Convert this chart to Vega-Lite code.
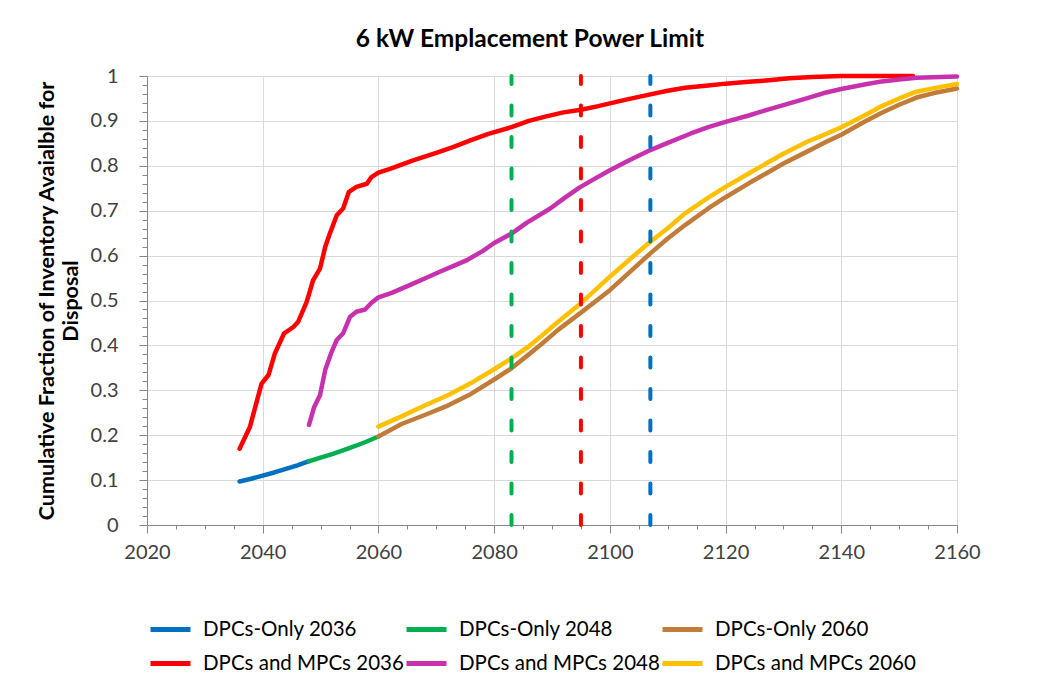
{
  "$schema": "https://vega.github.io/schema/vega-lite/v6.json",
  "width": 810,
  "height": 449,
  "autosize": {"type": "none"},
  "padding": {"left": 147, "top": 76, "right": 85, "bottom": 168},
  "background": "white",
  "title": {
    "text": "6 kW Emplacement Power Limit",
    "font": "Lato",
    "fontSize": 24.5,
    "fontWeight": "bold",
    "color": "#000000",
    "anchor": "middle",
    "dx": -22,
    "offset": 14
  },
  "config": {"view": {"stroke": null}},
  "datasets": {
    "curves": [
      {"series": "DPCs-Only 2036", "year": 2036, "value": 0.097},
      {"series": "DPCs-Only 2036", "year": 2038, "value": 0.103},
      {"series": "DPCs-Only 2036", "year": 2040, "value": 0.110},
      {"series": "DPCs-Only 2036", "year": 2042, "value": 0.117},
      {"series": "DPCs-Only 2036", "year": 2044, "value": 0.125},
      {"series": "DPCs-Only 2036", "year": 2046, "value": 0.133},
      {"series": "DPCs-Only 2036", "year": 2048, "value": 0.142},
      {"series": "DPCs-Only 2048", "year": 2048, "value": 0.142},
      {"series": "DPCs-Only 2048", "year": 2050, "value": 0.150},
      {"series": "DPCs-Only 2048", "year": 2052, "value": 0.158},
      {"series": "DPCs-Only 2048", "year": 2054, "value": 0.167},
      {"series": "DPCs-Only 2048", "year": 2056, "value": 0.176},
      {"series": "DPCs-Only 2048", "year": 2058, "value": 0.186},
      {"series": "DPCs-Only 2048", "year": 2060, "value": 0.197},
      {"series": "DPCs-Only 2060", "year": 2060, "value": 0.197},
      {"series": "DPCs-Only 2060", "year": 2064, "value": 0.225},
      {"series": "DPCs-Only 2060", "year": 2068, "value": 0.245},
      {"series": "DPCs-Only 2060", "year": 2072, "value": 0.266},
      {"series": "DPCs-Only 2060", "year": 2076, "value": 0.292},
      {"series": "DPCs-Only 2060", "year": 2080, "value": 0.324},
      {"series": "DPCs-Only 2060", "year": 2083, "value": 0.349},
      {"series": "DPCs-Only 2060", "year": 2086, "value": 0.380},
      {"series": "DPCs-Only 2060", "year": 2088, "value": 0.401},
      {"series": "DPCs-Only 2060", "year": 2091, "value": 0.434},
      {"series": "DPCs-Only 2060", "year": 2095, "value": 0.473},
      {"series": "DPCs-Only 2060", "year": 2100, "value": 0.523},
      {"series": "DPCs-Only 2060", "year": 2104, "value": 0.570},
      {"series": "DPCs-Only 2060", "year": 2107, "value": 0.605},
      {"series": "DPCs-Only 2060", "year": 2110, "value": 0.638},
      {"series": "DPCs-Only 2060", "year": 2113, "value": 0.668},
      {"series": "DPCs-Only 2060", "year": 2117, "value": 0.705},
      {"series": "DPCs-Only 2060", "year": 2120, "value": 0.730},
      {"series": "DPCs-Only 2060", "year": 2124, "value": 0.761},
      {"series": "DPCs-Only 2060", "year": 2127, "value": 0.783},
      {"series": "DPCs-Only 2060", "year": 2130, "value": 0.805},
      {"series": "DPCs-Only 2060", "year": 2134, "value": 0.831},
      {"series": "DPCs-Only 2060", "year": 2137, "value": 0.851},
      {"series": "DPCs-Only 2060", "year": 2140, "value": 0.869},
      {"series": "DPCs-Only 2060", "year": 2144, "value": 0.898},
      {"series": "DPCs-Only 2060", "year": 2147, "value": 0.918},
      {"series": "DPCs-Only 2060", "year": 2150, "value": 0.936},
      {"series": "DPCs-Only 2060", "year": 2153, "value": 0.952},
      {"series": "DPCs-Only 2060", "year": 2156, "value": 0.962},
      {"series": "DPCs-Only 2060", "year": 2160, "value": 0.972},
      {"series": "DPCs and MPCs 2036", "year": 2036, "value": 0.170},
      {"series": "DPCs and MPCs 2036", "year": 2037.8, "value": 0.219},
      {"series": "DPCs and MPCs 2036", "year": 2039.8, "value": 0.315},
      {"series": "DPCs and MPCs 2036", "year": 2041, "value": 0.334},
      {"series": "DPCs and MPCs 2036", "year": 2042.1, "value": 0.382},
      {"series": "DPCs and MPCs 2036", "year": 2043.7, "value": 0.427},
      {"series": "DPCs and MPCs 2036", "year": 2045.3, "value": 0.441},
      {"series": "DPCs and MPCs 2036", "year": 2046.1, "value": 0.452},
      {"series": "DPCs and MPCs 2036", "year": 2047.6, "value": 0.497},
      {"series": "DPCs and MPCs 2036", "year": 2048.7, "value": 0.545},
      {"series": "DPCs and MPCs 2036", "year": 2049.9, "value": 0.571},
      {"series": "DPCs and MPCs 2036", "year": 2050.8, "value": 0.619},
      {"series": "DPCs and MPCs 2036", "year": 2051.6, "value": 0.649},
      {"series": "DPCs and MPCs 2036", "year": 2052.8, "value": 0.690},
      {"series": "DPCs and MPCs 2036", "year": 2053.9, "value": 0.705},
      {"series": "DPCs and MPCs 2036", "year": 2054.9, "value": 0.742},
      {"series": "DPCs and MPCs 2036", "year": 2056.2, "value": 0.753},
      {"series": "DPCs and MPCs 2036", "year": 2058, "value": 0.760},
      {"series": "DPCs and MPCs 2036", "year": 2058.8, "value": 0.775},
      {"series": "DPCs and MPCs 2036", "year": 2060, "value": 0.785},
      {"series": "DPCs and MPCs 2036", "year": 2062, "value": 0.793},
      {"series": "DPCs and MPCs 2036", "year": 2066, "value": 0.812},
      {"series": "DPCs and MPCs 2036", "year": 2070, "value": 0.829},
      {"series": "DPCs and MPCs 2036", "year": 2073, "value": 0.842},
      {"series": "DPCs and MPCs 2036", "year": 2076, "value": 0.857},
      {"series": "DPCs and MPCs 2036", "year": 2079, "value": 0.871},
      {"series": "DPCs and MPCs 2036", "year": 2083, "value": 0.886},
      {"series": "DPCs and MPCs 2036", "year": 2086, "value": 0.900},
      {"series": "DPCs and MPCs 2036", "year": 2089, "value": 0.910},
      {"series": "DPCs and MPCs 2036", "year": 2092, "value": 0.919},
      {"series": "DPCs and MPCs 2036", "year": 2095, "value": 0.925},
      {"series": "DPCs and MPCs 2036", "year": 2098, "value": 0.933},
      {"series": "DPCs and MPCs 2036", "year": 2100, "value": 0.939},
      {"series": "DPCs and MPCs 2036", "year": 2103, "value": 0.948},
      {"series": "DPCs and MPCs 2036", "year": 2107, "value": 0.959},
      {"series": "DPCs and MPCs 2036", "year": 2110, "value": 0.967},
      {"series": "DPCs and MPCs 2036", "year": 2113, "value": 0.974},
      {"series": "DPCs and MPCs 2036", "year": 2117, "value": 0.979},
      {"series": "DPCs and MPCs 2036", "year": 2120, "value": 0.983},
      {"series": "DPCs and MPCs 2036", "year": 2124, "value": 0.987},
      {"series": "DPCs and MPCs 2036", "year": 2127, "value": 0.990},
      {"series": "DPCs and MPCs 2036", "year": 2131, "value": 0.995},
      {"series": "DPCs and MPCs 2036", "year": 2135, "value": 0.998},
      {"series": "DPCs and MPCs 2036", "year": 2140, "value": 1.0},
      {"series": "DPCs and MPCs 2036", "year": 2152.4, "value": 1.0},
      {"series": "DPCs and MPCs 2048", "year": 2048, "value": 0.223},
      {"series": "DPCs and MPCs 2048", "year": 2048.9, "value": 0.263},
      {"series": "DPCs and MPCs 2048", "year": 2049.9, "value": 0.289},
      {"series": "DPCs and MPCs 2048", "year": 2050.8, "value": 0.345},
      {"series": "DPCs and MPCs 2048", "year": 2051.8, "value": 0.382},
      {"series": "DPCs and MPCs 2048", "year": 2052.8, "value": 0.412},
      {"series": "DPCs and MPCs 2048", "year": 2053.9, "value": 0.427},
      {"series": "DPCs and MPCs 2048", "year": 2055.1, "value": 0.464},
      {"series": "DPCs and MPCs 2048", "year": 2056.2, "value": 0.475},
      {"series": "DPCs and MPCs 2048", "year": 2057.7, "value": 0.480},
      {"series": "DPCs and MPCs 2048", "year": 2058.8, "value": 0.495},
      {"series": "DPCs and MPCs 2048", "year": 2060, "value": 0.507},
      {"series": "DPCs and MPCs 2048", "year": 2062.3, "value": 0.517},
      {"series": "DPCs and MPCs 2048", "year": 2065.7, "value": 0.536},
      {"series": "DPCs and MPCs 2048", "year": 2068, "value": 0.549},
      {"series": "DPCs and MPCs 2048", "year": 2070.6, "value": 0.564},
      {"series": "DPCs and MPCs 2048", "year": 2073, "value": 0.577},
      {"series": "DPCs and MPCs 2048", "year": 2075.3, "value": 0.590},
      {"series": "DPCs and MPCs 2048", "year": 2078, "value": 0.610},
      {"series": "DPCs and MPCs 2048", "year": 2080, "value": 0.628},
      {"series": "DPCs and MPCs 2048", "year": 2083, "value": 0.649},
      {"series": "DPCs and MPCs 2048", "year": 2085.6, "value": 0.673},
      {"series": "DPCs and MPCs 2048", "year": 2089.7, "value": 0.705},
      {"series": "DPCs and MPCs 2048", "year": 2092, "value": 0.727},
      {"series": "DPCs and MPCs 2048", "year": 2094.8, "value": 0.752},
      {"series": "DPCs and MPCs 2048", "year": 2097.5, "value": 0.772},
      {"series": "DPCs and MPCs 2048", "year": 2100, "value": 0.790},
      {"series": "DPCs and MPCs 2048", "year": 2103, "value": 0.810},
      {"series": "DPCs and MPCs 2048", "year": 2107, "value": 0.835},
      {"series": "DPCs and MPCs 2048", "year": 2110, "value": 0.851},
      {"series": "DPCs and MPCs 2048", "year": 2114, "value": 0.872},
      {"series": "DPCs and MPCs 2048", "year": 2117, "value": 0.886},
      {"series": "DPCs and MPCs 2048", "year": 2120, "value": 0.898},
      {"series": "DPCs and MPCs 2048", "year": 2124, "value": 0.912},
      {"series": "DPCs and MPCs 2048", "year": 2127, "value": 0.924},
      {"series": "DPCs and MPCs 2048", "year": 2130, "value": 0.935},
      {"series": "DPCs and MPCs 2048", "year": 2134, "value": 0.950},
      {"series": "DPCs and MPCs 2048", "year": 2137, "value": 0.962},
      {"series": "DPCs and MPCs 2048", "year": 2140, "value": 0.971},
      {"series": "DPCs and MPCs 2048", "year": 2144, "value": 0.981},
      {"series": "DPCs and MPCs 2048", "year": 2147, "value": 0.988},
      {"series": "DPCs and MPCs 2048", "year": 2150, "value": 0.992},
      {"series": "DPCs and MPCs 2048", "year": 2153, "value": 0.996},
      {"series": "DPCs and MPCs 2048", "year": 2160, "value": 0.999},
      {"series": "DPCs and MPCs 2060", "year": 2060, "value": 0.219},
      {"series": "DPCs and MPCs 2060", "year": 2064, "value": 0.242},
      {"series": "DPCs and MPCs 2060", "year": 2068, "value": 0.266},
      {"series": "DPCs and MPCs 2060", "year": 2072, "value": 0.289},
      {"series": "DPCs and MPCs 2060", "year": 2076, "value": 0.316},
      {"series": "DPCs and MPCs 2060", "year": 2080, "value": 0.347},
      {"series": "DPCs and MPCs 2060", "year": 2083, "value": 0.371},
      {"series": "DPCs and MPCs 2060", "year": 2086, "value": 0.398},
      {"series": "DPCs and MPCs 2060", "year": 2088, "value": 0.419},
      {"series": "DPCs and MPCs 2060", "year": 2091, "value": 0.452},
      {"series": "DPCs and MPCs 2060", "year": 2095, "value": 0.494},
      {"series": "DPCs and MPCs 2060", "year": 2100, "value": 0.553},
      {"series": "DPCs and MPCs 2060", "year": 2104, "value": 0.598},
      {"series": "DPCs and MPCs 2060", "year": 2107, "value": 0.631},
      {"series": "DPCs and MPCs 2060", "year": 2110, "value": 0.661},
      {"series": "DPCs and MPCs 2060", "year": 2113, "value": 0.694},
      {"series": "DPCs and MPCs 2060", "year": 2117, "value": 0.729},
      {"series": "DPCs and MPCs 2060", "year": 2120, "value": 0.753},
      {"series": "DPCs and MPCs 2060", "year": 2124, "value": 0.783},
      {"series": "DPCs and MPCs 2060", "year": 2127, "value": 0.805},
      {"series": "DPCs and MPCs 2060", "year": 2130, "value": 0.827},
      {"series": "DPCs and MPCs 2060", "year": 2134, "value": 0.853},
      {"series": "DPCs and MPCs 2060", "year": 2137, "value": 0.869},
      {"series": "DPCs and MPCs 2060", "year": 2140, "value": 0.886},
      {"series": "DPCs and MPCs 2060", "year": 2144, "value": 0.912},
      {"series": "DPCs and MPCs 2060", "year": 2147, "value": 0.933},
      {"series": "DPCs and MPCs 2060", "year": 2150, "value": 0.950},
      {"series": "DPCs and MPCs 2060", "year": 2153, "value": 0.965},
      {"series": "DPCs and MPCs 2060", "year": 2156, "value": 0.973},
      {"series": "DPCs and MPCs 2060", "year": 2160, "value": 0.982}
    ],
    "rules": [
      {"series": "DPCs-Only 2048", "year": 2083, "value": 0, "value2": 1},
      {"series": "DPCs and MPCs 2036", "year": 2095, "value": 0, "value2": 1},
      {"series": "DPCs-Only 2036", "year": 2107, "value": 0, "value2": 1}
    ]
  },
  "encoding": {
    "x": {
      "field": "year",
      "type": "quantitative",
      "scale": {"domain": [2020, 2160], "nice": false, "zero": false},
      "axis": {
        "values": [2020, 2025, 2030, 2035, 2040, 2045, 2050, 2055, 2060, 2065, 2070, 2075, 2080, 2085, 2090, 2095, 2100, 2105, 2110, 2115, 2120, 2125, 2130, 2135, 2140, 2145, 2150, 2155, 2160],
        "format": "d",
        "labelExpr": "datum.value % 20 == 0 ? datum.label : ''",
        "tickSize": {"condition": {"test": "datum.value % 20 == 0", "value": 8}, "value": 4},
        "gridOpacity": {"condition": {"test": "datum.value % 20 == 0", "value": 1}, "value": 0},
        "gridColor": "#D9D9D9",
        "gridWidth": 1,
        "domainColor": "#868686",
        "tickColor": "#868686",
        "labelFont": "Lato",
        "labelFontSize": 20,
        "labelColor": "#404040",
        "labelPadding": 9,
        "labelFlush": false,
        "labelOverlap": false,
        "title": null
      }
    },
    "y": {
      "field": "value",
      "type": "quantitative",
      "scale": {"domain": [0, 1], "nice": false},
      "axis": {
        "values": [0, 0.02, 0.04, 0.06, 0.08, 0.1, 0.12, 0.14, 0.16, 0.18, 0.2, 0.22, 0.24, 0.26, 0.28, 0.3, 0.32, 0.34, 0.36, 0.38, 0.4, 0.42, 0.44, 0.46, 0.48, 0.5, 0.52, 0.54, 0.56, 0.58, 0.6, 0.62, 0.64, 0.66, 0.68, 0.7, 0.72, 0.74, 0.76, 0.78, 0.8, 0.82, 0.84, 0.86, 0.88, 0.9, 0.92, 0.94, 0.96, 0.98, 1],
        "format": "~g",
        "labelExpr": "round(datum.value * 50) % 5 == 0 ? datum.label : ''",
        "tickSize": {"condition": {"test": "round(datum.value * 50) % 5 == 0", "value": 8}, "value": 5},
        "gridOpacity": {"condition": {"test": "round(datum.value * 50) % 5 == 0", "value": 1}, "value": 0},
        "gridColor": "#D9D9D9",
        "gridWidth": 1,
        "domainColor": "#868686",
        "tickColor": "#868686",
        "labelFont": "Lato",
        "labelFontSize": 20,
        "labelColor": "#404040",
        "labelPadding": 21,
        "labelFlush": false,
        "labelOverlap": false,
        "title": ["Cumulative Fraction of Inventory Avaialble for", "Disposal"],
        "titleFont": "Lato",
        "titleFontSize": 21.5,
        "titleFontWeight": "bold",
        "titleColor": "#000000",
        "titlePadding": 8,
        "titleLineHeight": 24
      }
    },
    "color": {
      "field": "series",
      "type": "nominal",
      "scale": {
        "domain": ["DPCs-Only 2036", "DPCs-Only 2048", "DPCs-Only 2060", "DPCs and MPCs 2036", "DPCs and MPCs 2048", "DPCs and MPCs 2060"],
        "range": ["#0070C0", "#00B050", "#C27C3A", "#FF0000", "#C831AE", "#FFC000"]
      },
      "legend": {
        "orient": "none",
        "legendX": 1,
        "legendY": 531,
        "title": null,
        "columns": 3,
        "direction": "horizontal",
        "gridAlign": "all",
        "symbolType": "stroke",
        "symbolSize": 1600,
        "symbolStrokeWidth": 5,
        "labelFont": "Lato",
        "labelFontSize": 20.5,
        "labelColor": "#000000",
        "labelOffset": 10,
        "labelLimit": 400,
        "columnPadding": -14,
        "rowPadding": 1
      }
    }
  },
  "layer": [
    {
      "data": {"name": "curves"},
      "mark": {"type": "line", "strokeWidth": 4.5, "strokeCap": "round", "strokeJoin": "round"}
    },
    {
      "data": {"name": "rules"},
      "mark": {"type": "rule", "strokeWidth": 4, "strokeDash": [10, 21.5], "strokeCap": "round"},
      "encoding": {
        "y2": {"field": "value2"}
      }
    }
  ]
}
